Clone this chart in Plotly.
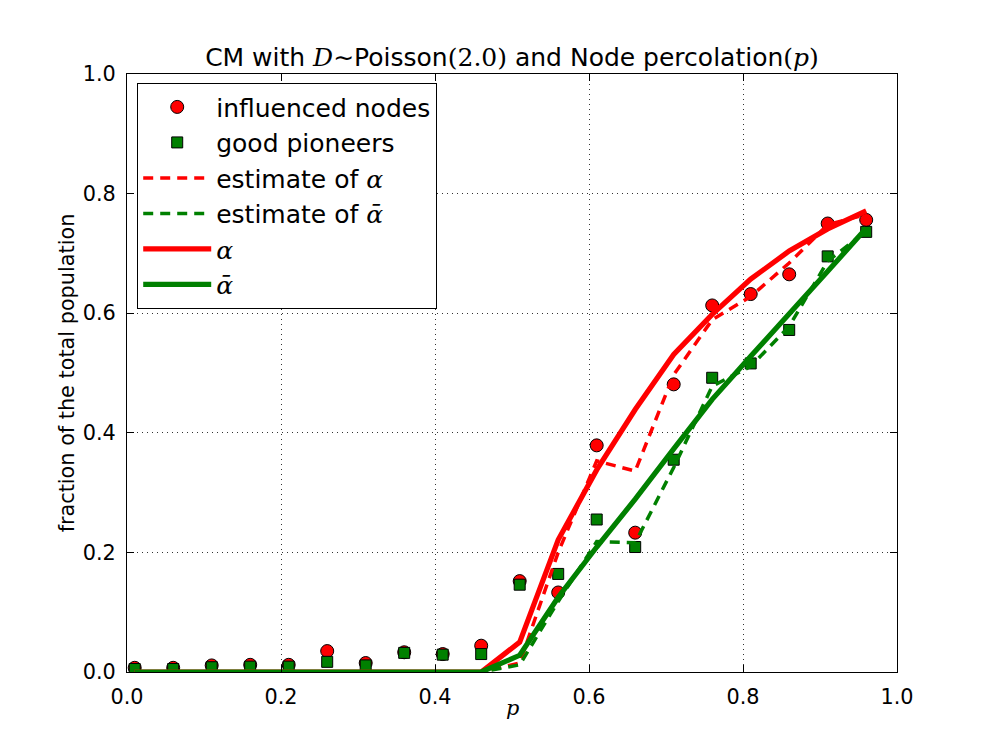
import plotly.graph_objects as go

p = [0.01, 0.06, 0.11, 0.16, 0.21, 0.26, 0.31, 0.36, 0.41, 0.46,
     0.51, 0.56, 0.61, 0.66, 0.71, 0.76, 0.81, 0.86, 0.91, 0.96]

influenced = [0.007, 0.007, 0.011, 0.012, 0.012, 0.035, 0.015, 0.033, 0.030, 0.044,
              0.152, 0.133, 0.379, 0.233, 0.481, 0.613, 0.632, 0.665, 0.750, 0.756]
pioneers = [0.005, 0.005, 0.008, 0.009, 0.009, 0.017, 0.011, 0.032, 0.029, 0.030,
            0.146, 0.164, 0.255, 0.209, 0.355, 0.492, 0.516, 0.572, 0.695, 0.736]
est_alpha = [0, 0, 0, 0, 0, 0, 0, 0, 0, 0,
             0.015, 0.200, 0.353, 0.336, 0.497, 0.589, 0.628, 0.684, 0.748, 0.765]
est_alpha_bar = [0, 0, 0, 0, 0, 0, 0, 0, 0, 0,
                 0.012, 0.118, 0.218, 0.216, 0.342, 0.478, 0.511, 0.578, 0.687, 0.737]
alpha = [0, 0, 0, 0, 0, 0, 0, 0, 0, 0,
         0.050, 0.221, 0.338, 0.439, 0.531, 0.598, 0.657, 0.704, 0.741, 0.771]
alpha_bar = [0, 0, 0, 0, 0, 0, 0, 0, 0, 0,
             0.028, 0.125, 0.209, 0.289, 0.373, 0.456, 0.528, 0.598, 0.670, 0.742]

RED = "#ff0000"
GREEN = "#008000"
SERIF = "font-family:DejaVu Serif"


def m(s, italic=True):
    inner = f"<i>{s}</i>" if italic else s
    return f'<span style="{SERIF}">{inner}</span>'


fig = go.Figure()
fig.add_trace(go.Scatter(x=p, y=influenced, mode="markers", name="influenced nodes",
                         marker=dict(symbol="circle", size=13, color=RED,
                                     line=dict(color="black", width=1))))
fig.add_trace(go.Scatter(x=p, y=pioneers, mode="markers", name="good pioneers",
                         marker=dict(symbol="square", size=11, color=GREEN,
                                     line=dict(color="black", width=1))))
fig.add_trace(go.Scatter(x=p, y=est_alpha, mode="lines", name="estimate of " + m("α"),
                         line=dict(color=RED, width=3.5, dash="10px,7px")))
fig.add_trace(go.Scatter(x=p, y=est_alpha_bar, mode="lines", name="estimate of " + m("ᾱ"),
                         line=dict(color=GREEN, width=3.5, dash="10px,7px")))
fig.add_trace(go.Scatter(x=p, y=alpha, mode="lines", name=m("α"),
                         line=dict(color=RED, width=5.2)))
fig.add_trace(go.Scatter(x=p, y=alpha_bar, mode="lines", name=m("ᾱ"),
                         line=dict(color=GREEN, width=5.2)))

axis_common = dict(
    range=[0, 1], dtick=0.2, tickformat=".1f",
    showline=True, linecolor="black", linewidth=1.2, mirror="ticks",
    ticks="inside", ticklen=7, tickcolor="black", tickwidth=1,
    showgrid=True, gridcolor="#333333", gridwidth=1, griddash="1px,4px",
    zeroline=False, tickfont=dict(size=20.8, color="black"),
)

fig.update_layout(
    width=997, height=747,
    margin=dict(l=119, r=108, t=66, b=83),
    paper_bgcolor="white", plot_bgcolor="white",
    font=dict(family="DejaVu Sans", color="black"),
    title=dict(
        text="CM with " + m("D") + "∼Poisson" + m("(2.0)", italic=False)
             + " and Node percolation" + m("(", italic=False) + m("p") + m(")", italic=False),
        x=0.5, xref="paper", xanchor="center",
        y=1, yref="paper", yanchor="bottom", pad=dict(b=8),
        font=dict(size=25, color="black"),
    ),
    xaxis=dict(axis_common, ticklabelstandoff=6),
    yaxis=dict(axis_common, title=dict(text="fraction of the total population",
                                       font=dict(size=20.8), standoff=2),
               ticklabelstandoff=6),
    legend=dict(
        x=0.013, y=0.985, xanchor="left", yanchor="top",
        bgcolor="white", bordercolor="black", borderwidth=1.2,
        font=dict(size=25, color="black"), itemwidth=68,
        tracegroupgap=0,
    ),
    annotations=[dict(text=m("p"), x=0.5, xref="paper", y=-0.060, yref="paper",
                      xanchor="center", yanchor="middle", showarrow=False,
                      font=dict(size=20.8, color="black"))],
    showlegend=True,
)

fig.write_html("out.html")
